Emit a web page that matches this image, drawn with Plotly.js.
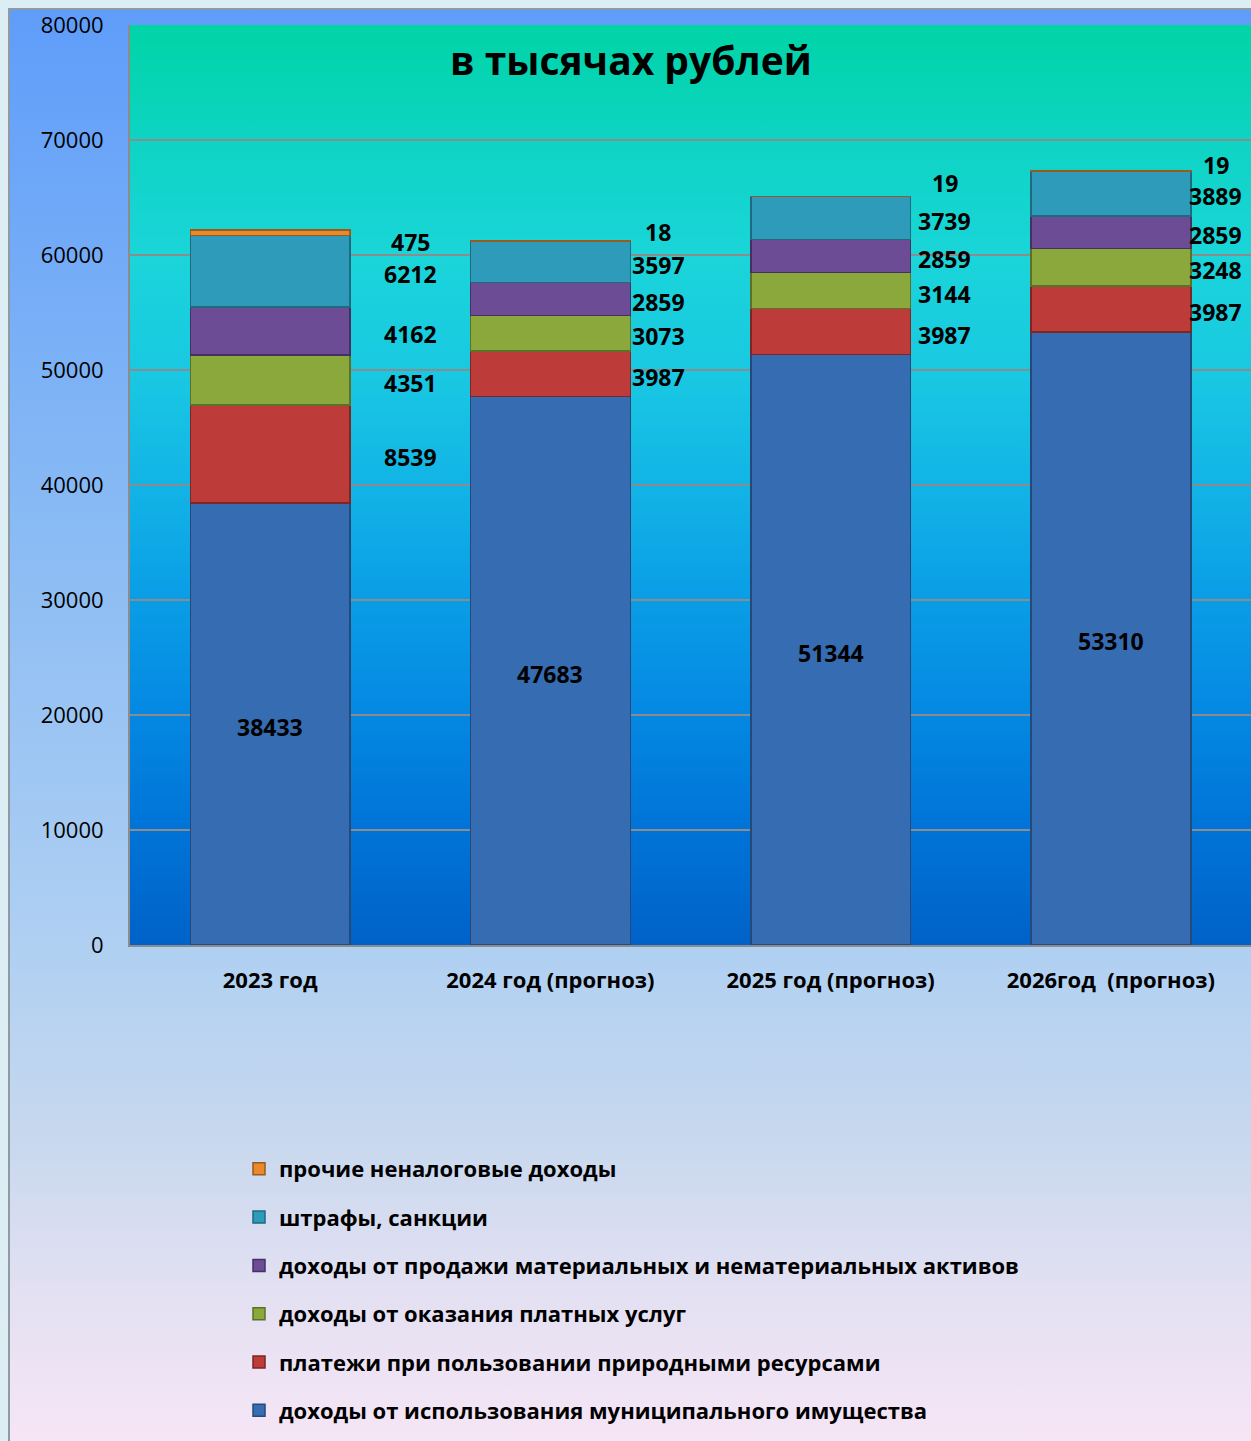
<!DOCTYPE html>
<html>
<head>
<meta charset="utf-8">
<script src="https://cdn.plot.ly/plotly-3.0.1.min.js"></script>
<style>
  html, body { margin:0; padding:0; width:1251px; height:1441px; overflow:hidden; background:#dcedf3; }
  #frame { position:absolute; left:8px; top:8px; width:1260px; height:1450px;
    border-left:2px solid #8f9aa3; border-top:2px solid #8f9aa3;
    background: linear-gradient(to bottom, #5f9dfa 0%, #88baf4 35%, #b0d0f2 65%, #c8d8ee 78%, #e2e0f2 88%, #f8e6f6 100%); }
  #chart { position:absolute; left:0; top:0; width:1251px; height:1441px; }
</style>
</head>
<body>
<div id="frame"></div>
<div id="chart"></div>
<script>
const categories = ['2023 год', '2024 год (прогноз)', '2025 год (прогноз)', '2026год  (прогноз)'];
const seriesNames = [
  'доходы от использования муниципального имущества',
  'платежи при пользовании природными ресурсами',
  'доходы от оказания платных услуг',
  'доходы от продажи материальных и нематериальных активов',
  'штрафы, санкции',
  'прочие неналоговые доходы'
];
const municipalProperty = [38433, 47683, 51344, 53310];
const naturalResources  = [8539, 3987, 3987, 3987];
const paidServices      = [4351, 3073, 3144, 3248];
const assetSales        = [4162, 2859, 2859, 2859];
const finesSanctions    = [6212, 3597, 3739, 3889];
const otherNonTax       = [475, 18, 19, 19];
const yTicks = [0, 10000, 20000, 30000, 40000, 50000, 60000, 70000, 80000];

const seriesValues = [municipalProperty, naturalResources, paidServices, assetSales, finesSanctions, otherNonTax];
const colors = ['#356cb2', '#bd3b39', '#8aa83c', '#6b4c95', '#2f9bbb', '#e8892c'];
const lineColors = ['#24497a', '#7e2624', '#5c7127', '#463061', '#1f6a80', '#9a5a1c'];
const labelXShift = [140, 108, 114, 105];
const topLabelYShift = [-9, 9, 14, 6];

const traces = seriesValues.map((vals, i) => ({
  type: 'bar',
  name: seriesNames[i],
  x: categories,
  y: vals,
  legendgroup: 'g' + i,
  legendrank: 1000 - i * 10,
  marker: { color: colors[i], line: { color: lineColors[i], width: 1.5 } },
  hoverinfo: 'skip'
}));

const annotations = [];
categories.forEach((cat, j) => {
  let base = 0;
  seriesValues.forEach((vals, i) => {
    const v = vals[j];
    const isTop = i === seriesValues.length - 1;
    annotations.push({
      x: cat, y: base + v / 2, xref: 'x', yref: 'y',
      text: String(v), showarrow: false,
      xshift: i === 0 ? 0 : labelXShift[j],
      yshift: isTop ? topLabelYShift[j] : -3,
      font: { family: 'Open Sans', size: 23, color: '#000', weight: 'bold' }
    });
    base += v;
  });
});
annotations.push({
  xref: 'paper', yref: 'paper', x: 0.447, y: 0.962, yanchor: 'middle', xanchor: 'center',
  text: 'в тысячах рублей', showarrow: false,
  font: { family: 'Open Sans', size: 39, color: '#000', weight: 'bold' }
});

const gradSvg = '<svg xmlns="http://www.w3.org/2000/svg" width="100" height="100" preserveAspectRatio="none">' +
  '<defs><linearGradient id="g" x1="0" y1="0" x2="0" y2="1">' +
  '<stop offset="0" stop-color="#00d4a6"/>' +
  '<stop offset="0.13" stop-color="#0ed4c4"/>' +
  '<stop offset="0.25" stop-color="#1ad5d9"/>' +
  '<stop offset="0.38" stop-color="#19c8e2"/>' +
  '<stop offset="0.5" stop-color="#12b4e6"/>' +
  '<stop offset="0.62" stop-color="#0a9ee6"/>' +
  '<stop offset="0.75" stop-color="#0488e2"/>' +
  '<stop offset="0.87" stop-color="#0074d8"/>' +
  '<stop offset="1" stop-color="#0062c8"/>' +
  '</linearGradient></defs><rect width="100" height="100" fill="url(#g)"/></svg>';

const layout = {
  width: 1251, height: 1441,
  margin: { l: 130, r: 0, t: 25, b: 496, pad: 0 },
  paper_bgcolor: 'rgba(0,0,0,0)',
  plot_bgcolor: 'rgba(0,0,0,0)',
  barmode: 'stack',
  bargap: 0.43,
  showlegend: true,
  images: [{
    source: 'data:image/svg+xml;charset=utf-8,' + encodeURIComponent(gradSvg),
    xref: 'paper', yref: 'paper', x: 0, y: 1, sizex: 1, sizey: 1,
    sizing: 'stretch', layer: 'below', xanchor: 'left', yanchor: 'top'
  }],
  xaxis: {
    type: 'category',
    tickfont: { family: 'Open Sans', size: 22, color: '#000', weight: 'bold' },
    ticks: '', showline: true, linecolor: '#8c8c8c', linewidth: 2,
    ticklabelstandoff: 15, showgrid: false, fixedrange: true
  },
  yaxis: {
    range: [0, 80000], tickvals: yTicks, ticktext: yTicks.map(String),
    tickfont: { family: 'Open Sans', size: 22, color: '#000' },
    showgrid: true, gridcolor: '#8c8c8c', gridwidth: 1.5,
    showline: true, linecolor: '#8c8c8c', linewidth: 2, mirror: true,
    zeroline: false, ticks: '', ticklabelstandoff: 20, fixedrange: true
  },
  legend: {
    x: (239 - 130) / 1121, xanchor: 'left',
    y: (945 - 1148) / 920, yanchor: 'top',
    traceorder: 'grouped', tracegroupgap: 16.7,
    bgcolor: 'rgba(0,0,0,0)',
    font: { family: 'Open Sans', size: 22, color: '#000', weight: 'bold' }
  },
  annotations: annotations
};

Plotly.newPlot('chart', traces, layout, { displayModeBar: false, staticPlot: true });
</script>
</body>
</html>
